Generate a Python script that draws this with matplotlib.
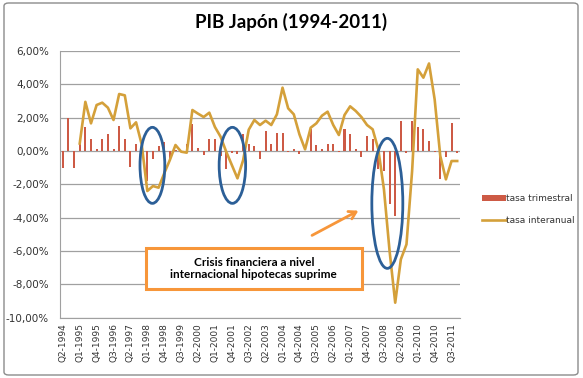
import numpy as np
import matplotlib
matplotlib.use("Agg")
import matplotlib.pyplot as plt
from matplotlib.patches import Ellipse, Rectangle, FancyBboxPatch
from matplotlib.ticker import FuncFormatter

# trimestres Q2-1994 .. Q4-2011
quarters = []
for year in range(1994, 2012):
    for q in range(1, 5):
        if year == 1994 and q == 1:
            continue
        quarters.append(f"Q{q}-{year}")

tasa_trimestral = [
    -1.0, 2.0, -1.0, 0.5, 1.45, 0.7, 0.1, 0.75, 1.05, 0.1,
    1.5, 0.75, -0.95, 0.4, -0.2, -1.8, -0.5, 0.28, 0.56, -0.5,
    0.05, -0.05, 0.45, 1.65, 0.2, -0.25, 0.7, 0.7, -0.3, -1.05,
    -0.1, -0.15, 1.0, 0.4, 0.3, -0.5, 1.2, 0.42, 1.06, 1.06,
    -0.05, 0.15, -0.2, 0.02, 1.33, 0.36, 0.15, 0.42, 0.42, -0.05,
    1.3, 1.0, 0.15, -0.38, 0.9, 0.7, -1.1, -1.2, -3.2, -3.9,
    1.78, -0.1, 1.8, 1.46, 1.3, 0.6, -0.05, -1.7, -0.34, 1.7,
    -0.1,
]

tasa_interanual = [
    np.nan, np.nan, np.nan, 0.45, 2.95, 1.66, 2.76, 2.9, 2.6, 1.86,
    3.42, 3.34, 1.36, 1.72, 0.4, -2.4, -2.1, -2.2, -1.34, -0.54,
    0.36, -0.04, -0.1, 2.46, 2.24, 2.04, 2.3, 1.44, 0.86, -0.04,
    -0.84, -1.64, -0.56, 1.28, 1.86, 1.56, 1.82, 1.56, 2.2, 3.8,
    2.56, 2.2, 1.0, 0.1, 1.4, 1.66, 2.12, 2.36, 1.56, 0.96,
    2.16, 2.68, 2.4, 2.04, 1.56, 1.3, 0.1, -2.3, -6.0, -9.1,
    -6.5, -5.6, -1.2, 4.9, 4.4, 5.25, 3.1, -0.3, -1.7, -0.6,
    -0.6,
]

yticks = [6, 4, 2, 0, -2, -4, -6, -8, -10]

x = np.arange(len(quarters))

fig = plt.figure(figsize=(5.83, 3.78), dpi=100)
ax = fig.add_axes([60 / 583, 1 - 317.7 / 378, 400 / 583, (317.7 - 51) / 378])

# marco del gráfico
fig.patches.append(FancyBboxPatch((4 / 583, 3 / 378), 574 / 583, 372 / 378,
                                  boxstyle="round,pad=0,rounding_size=0.008",
                                  transform=fig.transFigure, fill=False,
                                  edgecolor="#8c8c8c", linewidth=1))

for y in yticks:
    ax.axhline(y, color="#a0a0a0", linewidth=0.9, zorder=0)

bars = ax.bar(x, tasa_trimestral, width=0.36, color="#cd5a45", label="tasa trimestral", zorder=2)
line, = ax.plot(x, tasa_interanual, color="#d4a03a", linewidth=1.9, label="tasa interanual", zorder=3)

ax.set_xlim(-0.5, len(quarters) - 0.5)
ax.set_ylim(-10, 6)
ax.set_yticks(yticks)
ax.yaxis.set_major_formatter(FuncFormatter(lambda v, p: f"{v:.2f}%".replace(".", ",")))
ax.set_xticks(x[::3])
ax.set_xticklabels(quarters[::3], rotation=90, fontsize=6.5, color="#333333")
ax.tick_params(axis="y", labelsize=7.5, length=0, pad=8, colors="#333333")
ax.tick_params(axis="x", length=0, pad=4)

for s in ["top", "right"]:
    ax.spines[s].set_visible(False)
for s in ["left", "bottom"]:
    ax.spines[s].set_color("#a0a0a0")

# elipses de las crisis
blue = "#2c5f97"
for cx, cy, w, h in [(15.9, -0.86, 4.4, 4.56), (30.1, -0.86, 4.7, 4.56), (57.6, -3.14, 5.5, 7.8)]:
    ax.add_patch(Ellipse((cx, cy), w, h, fill=False, edgecolor=blue, linewidth=2, zorder=4, clip_on=False))

# recuadro y flecha
ax.add_patch(Rectangle((14.7, -8.3), 38.4, 2.5, fill=True, facecolor="white",
                       edgecolor="#f7963a", linewidth=2.2, zorder=5))
ax.text(33.9, -7.05, "Crisis financiera a nivel\ninternacional hipotecas suprime",
        ha="center", va="center", fontsize=8.5, fontweight="bold",
        family="Lato", linespacing=1.1, zorder=6)
ax.annotate("", xy=(52.9, -3.5), xytext=(43.8, -5.14),
            arrowprops=dict(arrowstyle="->,head_length=0.5,head_width=0.3",
                            color="#f7963a", lw=2), zorder=6)

fig.text(0.5, 1 - 22 / 378, "PIB Japón (1994-2011)", ha="center", va="center",
         fontsize=13.5, fontweight="bold", family="Lato")

fig.legend(handles=[bars, line], loc="upper left", bbox_to_anchor=(474 / 583, 1 - 186 / 378),
           frameon=False, fontsize=6.5, handlelength=2.6, handleheight=0.6,
           labelspacing=1.4, handletextpad=0.1, labelcolor="#333333")

fig.savefig("out.png", dpi=100)
